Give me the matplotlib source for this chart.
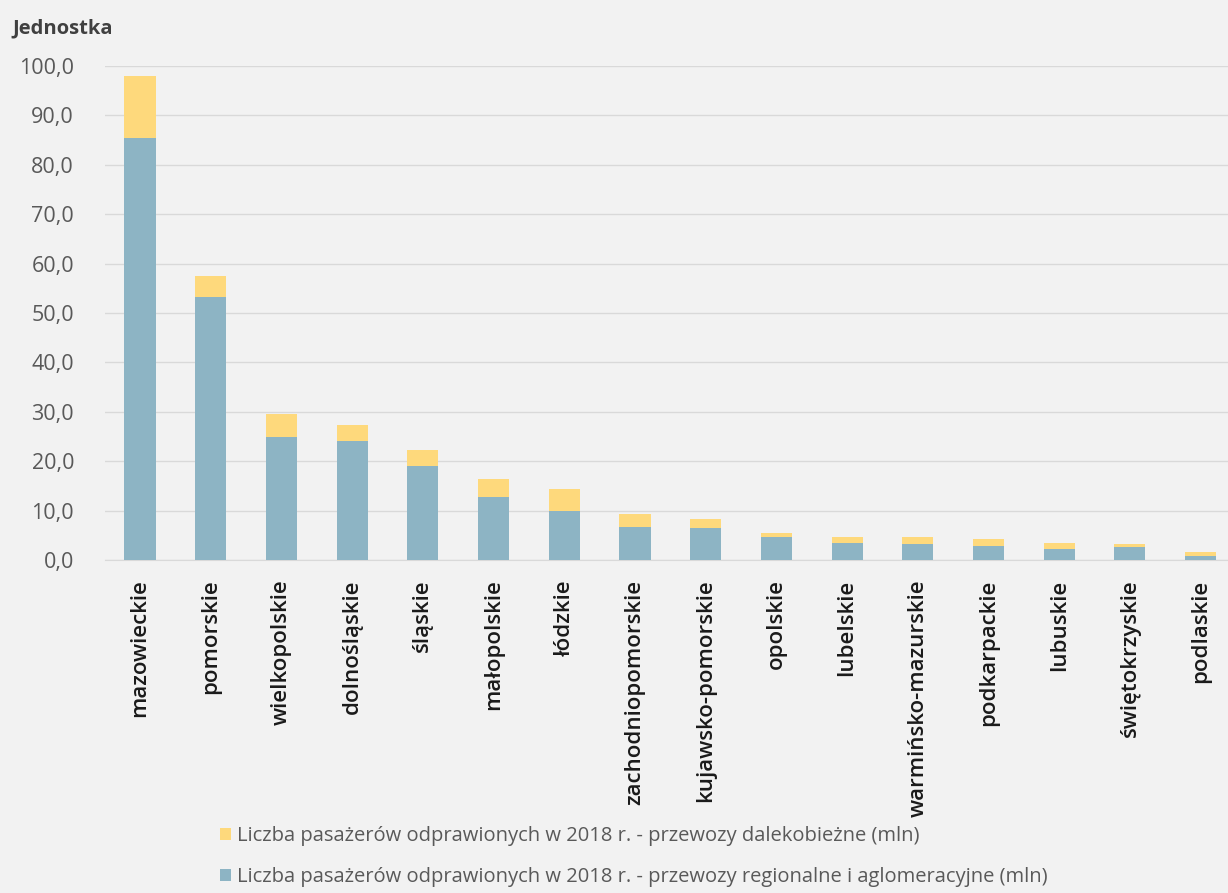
import numpy as np
import matplotlib
matplotlib.use('Agg')
import matplotlib.pyplot as plt
from matplotlib.patches import Patch
from matplotlib.ticker import FuncFormatter

plt.rcParams['font.family'] = ['Open Sans', 'DejaVu Sans']

wojewodztwa = ['mazowieckie', 'pomorskie', 'wielkopolskie', 'dolnośląskie', 'śląskie',
               'małopolskie', 'łódzkie', 'zachodniopomorskie', 'kujawsko-pomorskie',
               'opolskie', 'lubelskie', 'warmińsko-mazurskie', 'podkarpackie',
               'lubuskie', 'świętokrzyskie', 'podlaskie']
regionalne = [85.4, 53.2, 25.0, 24.0, 19.0, 12.7, 10.0, 6.7, 6.5, 4.7, 3.5, 3.2, 2.8, 2.3, 2.6, 0.8]
razem = [98.0, 57.5, 29.6, 27.3, 22.3, 16.4, 14.3, 9.4, 8.3, 5.5, 4.7, 4.7, 4.25, 3.4, 3.2, 1.6]
dalekobiezne = [t - r for t, r in zip(razem, regionalne)]

lab_dal = 'Liczba pasażerów odprawionych w 2018 r. - przewozy dalekobieżne (mln)'
lab_reg = 'Liczba pasażerów odprawionych w 2018 r. - przewozy regionalne i aglomeracyjne (mln)'

bg = '#f2f2f2'
blue = '#8db4c4'
yellow = '#fed97c'

fig = plt.figure(figsize=(12.28, 8.93), dpi=100, facecolor=bg)
W, H = 1228, 893
ax = fig.add_axes([104.6 / W, (H - 560) / H, (1236 - 104.6) / W, 494 / H])
ax.set_facecolor(bg)

x = np.arange(len(wojewodztwa))
ax.bar(x, regionalne, width=0.44, color=blue, zorder=3)
ax.bar(x, dalekobiezne, bottom=regionalne, width=0.44, color=yellow, zorder=3)

ax.set_xlim(-0.5, len(wojewodztwa) - 0.5)
ax.set_ylim(0, 100)
ax.set_yticks(np.arange(0, 101, 10))
ax.yaxis.set_major_formatter(FuncFormatter(lambda v, p: f'{v:.1f}'.replace('.', ',')))
ax.grid(axis='y', color='#d9d9d9', linewidth=1, zorder=0)
for s in ['top', 'right', 'left']:
    ax.spines[s].set_visible(False)
ax.spines['bottom'].set_color('#d9d9d9')
ax.tick_params(axis='y', length=0, pad=22, labelsize=15.5, labelcolor='#595959')
ax.tick_params(axis='x', length=0, pad=14)
ax.set_xticks(x)
ax.set_xticklabels(wojewodztwa, rotation=90, fontsize=16, color='#1a1a1a',
                   fontweight='semibold')

fig.text(12 / W, 1 - 28 / H, 'Jednostka', fontsize=14.5, fontweight='bold',
         color='#404040', va='center', ha='left')

handles = [Patch(facecolor=yellow, label=lab_dal), Patch(facecolor=blue, label=lab_reg)]
fig.legend(handles=handles, loc='upper left', bbox_to_anchor=(212 / W, 1 - 818 / H),
           frameon=False, fontsize=14.5, labelcolor='#595959', handlelength=0.55,
           handleheight=0.6, handletextpad=0.3, labelspacing=1.05, borderaxespad=0)

plt.savefig('out.png', dpi=100, facecolor=bg)
